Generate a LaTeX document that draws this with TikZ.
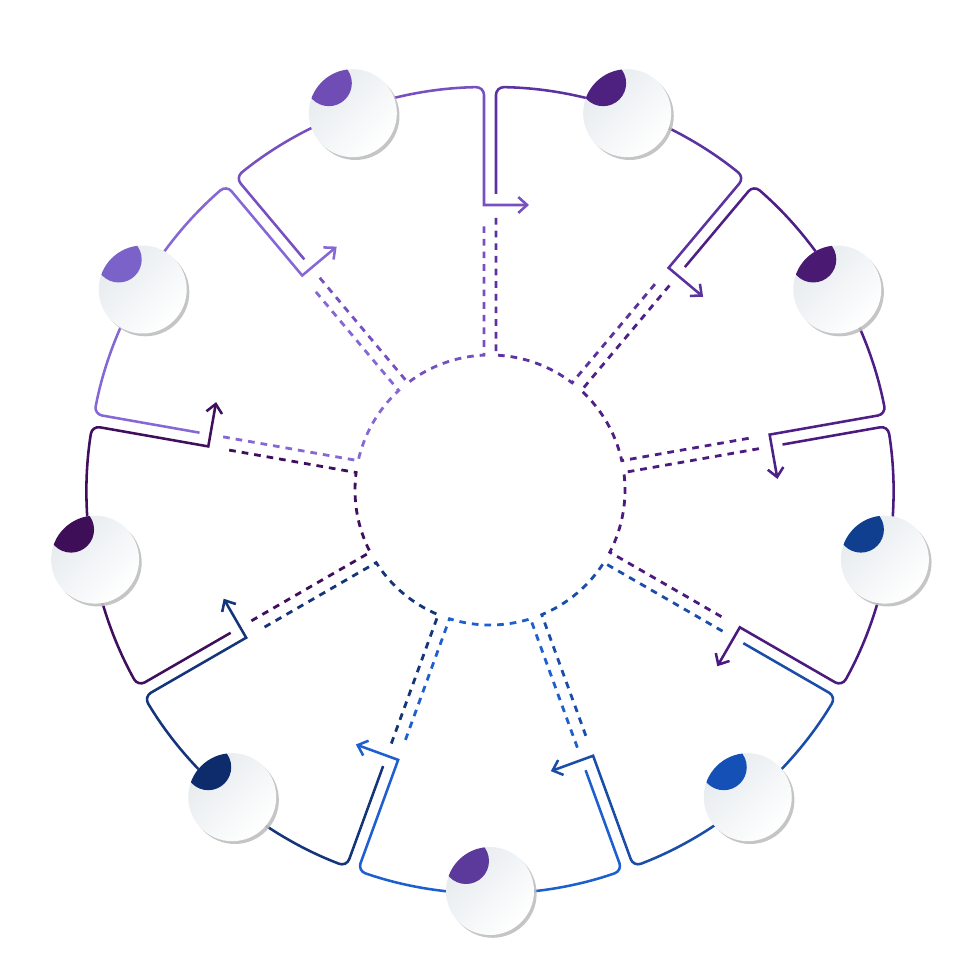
\documentclass[tikz,border=0pt]{standalone}
\usetikzlibrary{arrows.meta, shadows}

% couleurs des secteurs (sens horaire depuis le haut)
\definecolor{seg0}{HTML}{5B32A0}
\definecolor{seg1}{HTML}{4E1F86}
\definecolor{seg2}{HTML}{4A1A7E}
\definecolor{seg3}{HTML}{1A4DA8}
\definecolor{seg4}{HTML}{1E5FD0}
\definecolor{seg5}{HTML}{14357A}
\definecolor{seg6}{HTML}{3F0E5C}
\definecolor{seg7}{HTML}{8568D6}
\definecolor{seg8}{HTML}{7650C0}
% couleurs des pastilles
\definecolor{cap0}{HTML}{4E2180}
\definecolor{cap1}{HTML}{4A1A72}
\definecolor{cap2}{HTML}{0F3F8E}
\definecolor{cap3}{HTML}{1450B5}
\definecolor{cap4}{HTML}{5C3A9C}
\definecolor{cap5}{HTML}{0E2C6C}
\definecolor{cap6}{HTML}{3E0F58}
\definecolor{cap7}{HTML}{7A62C8}
\definecolor{cap8}{HTML}{6F4DB5}
\definecolor{badgetop}{HTML}{E6EBEE}

\begin{document}
\begin{tikzpicture}[
    x=0.02cm, y=0.02cm,
    segline/.style={line width=1.45pt, rounded corners=4.5pt},
    segdash/.style={line width=1.6pt, dash pattern=on 3.8pt off 3.4pt},
    pointer/.style={-{Straight Barb[length=5pt, width=9pt]}},
    % pastille avec ombre
    badge/.style={circle, minimum size=1.76cm, inner sep=0pt,
        top color=badgetop, bottom color=white, shading angle=45,
        drop shadow={shadow xshift=1.5pt, shadow yshift=-1.6pt, fill=black!25, opacity=0.9}}
]
\useasboundingbox (-490,-490) rectangle (490,490);

% --- SECTEURS ---
% A = bord de depart, B = bord d'arrivee (fleche vers le secteur suivant)
\foreach \k in {0,...,8} {
    \pgfmathsetmacro\A{90-40*\k}
    \pgfmathsetmacro\B{50-40*\k}
    \coordinate (turn-\k) at ([shift={(\B+90:6)}]\B:285);
    \coordinate (tip-\k) at ([shift={(\B-90:45)}]turn-\k);
    % contour plein
    \draw[segline, pointer, seg\k] ([shift={(\A-90:6)}]\A:296)
        -- ([shift={(\A-90:6)}]\A:402.95)
        arc[start angle=\A-0.853, end angle=\B+0.853, radius=403]
        [sharp corners] -- (turn-\k) -- (tip-\k);
    % partie pointillee
    \draw[segdash, seg\k] ([shift={(\A-90:6)}]\A:272)
        -- ([shift={(\A-90:6)}]\A:134.87)
        arc[start angle=\A-2.547, end angle=\B+2.547, radius=135]
        -- ([shift={(\B+90:6)}]\B:268);
}

% --- PASTILLES ---
\foreach \k in {0,...,8} {
    \pgfmathsetmacro\C{70-40*\k}
    \node[badge] (badge-\k) at (\C:401) {};
    \begin{scope}
        \clip (badge-\k.center) circle[radius=44];
        \fill[cap\k] ([shift={(-24,30)}]badge-\k.center) circle[radius=23];
    \end{scope}
}

\end{tikzpicture}
\end{document}
